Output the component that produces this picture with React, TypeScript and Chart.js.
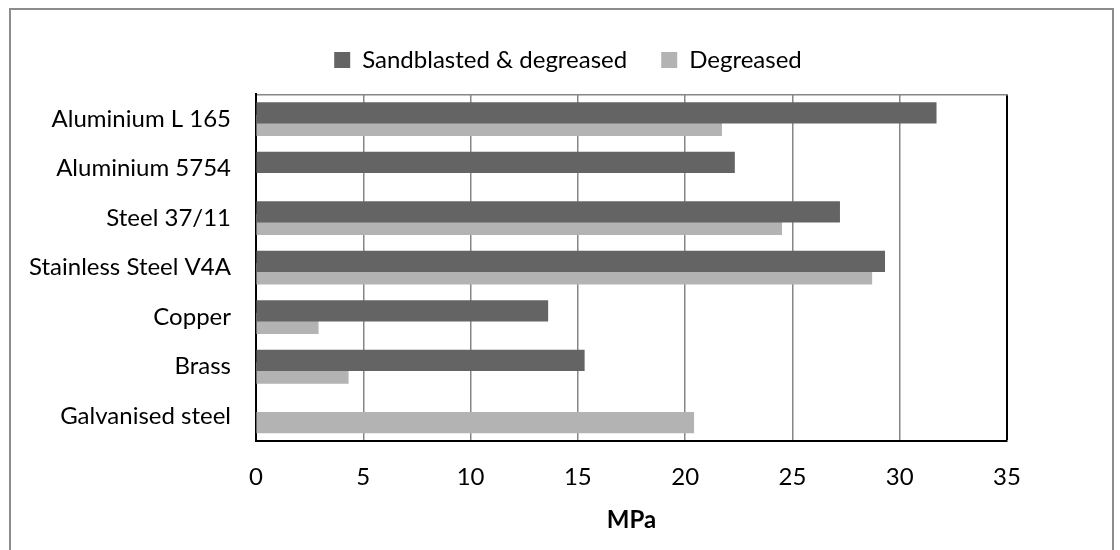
import React, { useEffect, useRef } from "react";
import { Chart, registerables } from "chart.js";

Chart.register(...registerables);

const categories = [
  "Aluminium L 165",
  "Aluminium 5754",
  "Steel 37/11",
  "Stainless Steel V4A",
  "Copper",
  "Brass",
  "Galvanised steel",
];
const sandblastedDegreased: (number | null)[] = [31.7, 22.3, 27.2, 29.3, 13.6, 15.3, null];
const degreased: (number | null)[] = [21.7, null, 24.5, 28.7, 2.9, 4.3, 20.4];
const seriesNames = ["Sandblasted & degreased", "Degreased"];
const xTicks = [0, 5, 10, 15, 20, 25, 30, 35];
const axisTitle = "MPa";

const FONT = "Lato, 'Noto Sans', sans-serif";
const FS = 24;

export default function App() {
  const ref = useRef<HTMLCanvasElement | null>(null);

  useEffect(() => {
    document.body.style.overflow = "hidden";
    if (!ref.current) return;
    const shift = 0.127;
    const toPoints = (vals: (number | null)[], off: number) =>
      vals.map((v, i) => ({ x: v, y: i + off }));
    const lastTick = xTicks[xTicks.length - 1];

    const chart = new Chart(ref.current, {
      type: "bar",
      data: {
        datasets: [
          {
            label: seriesNames[0],
            data: toPoints(sandblastedDegreased, -shift) as any,
            backgroundColor: "#646464",
            borderWidth: 0,
            barThickness: 20.6,
            grouped: false,
          },
          {
            label: seriesNames[1],
            data: toPoints(degreased, shift) as any,
            backgroundColor: "#b3b3b3",
            borderWidth: 0,
            barThickness: 20.6,
            grouped: false,
          },
        ],
      },
      options: {
        indexAxis: "y",
        responsive: false,
        animation: false,
        layout: { padding: { left: 16, right: 0, top: 14, bottom: 15.6 } },
        plugins: {
          legend: {
            position: "top",
            labels: {
              boxWidth: 16,
              boxHeight: 16,
              padding: 34,
              color: "#000",
              font: { family: FONT, size: FS },
            },
          },
          tooltip: { enabled: false },
        },
        scales: {
          x: {
            type: "linear",
            min: xTicks[0],
            max: lastTick,
            afterBuildTicks: (axis: any) => {
              axis.ticks = xTicks.map((v) => ({ value: v }));
            },
            afterFit: (axis: any) => {
              axis.height = 93.4;
            },
            ticks: {
              color: "#000",
              padding: 22,
              font: { family: FONT, size: FS },
            },
            grid: {
              drawTicks: false,
              color: (ctx: any) =>
                ctx.tick && ctx.tick.value === lastTick ? "#000" : "#868686",
              lineWidth: (ctx: any) =>
                ctx.tick && ctx.tick.value === lastTick ? 2 : 1.5,
            },
            border: { color: "#000", width: 2 },
            title: {
              display: true,
              text: axisTitle,
              color: "#000",
              padding: { top: 0, bottom: 0 },
              font: { family: FONT, size: FS, weight: "bold" },
            },
          },
          xTop: {
            type: "linear",
            position: "top",
            min: xTicks[0],
            max: lastTick,
            afterFit: (axis: any) => {
              axis.height = 12.3;
            },
            ticks: { display: false },
            grid: { display: false, drawTicks: false },
            border: { color: "#868686", width: 1.5 },
          },
          y: {
            type: "linear",
            reverse: true,
            offset: false,
            min: -0.5,
            max: categories.length - 0.5,
            afterBuildTicks: (axis: any) => {
              axis.ticks = categories.map((_, i) => ({ value: i }));
            },
            afterFit: (axis: any) => {
              axis.width = 240;
            },
            ticks: {
              color: "#000",
              padding: 25,
              font: { family: FONT, size: FS },
              callback: (v: any) => categories[Math.round(Number(v))] ?? "",
            },
            grid: { display: false, drawTicks: false },
            border: { color: "#000", width: 2 },
          },
          yRight: {
            type: "linear",
            position: "right",
            min: 0,
            max: 1,
            afterFit: (axis: any) => {
              axis.width = 113;
            },
            ticks: { display: false },
            grid: { display: false, drawTicks: false },
            border: { display: false },
          },
        },
      },
    });
    return () => chart.destroy();
  }, []);

  return (
    <div>
      <div
        style={{
          position: "fixed",
          left: 9,
          top: 8,
          width: 1105,
          height: 600,
          border: "2px solid #8c8c8c",
          boxSizing: "border-box",
        }}
      />
      <canvas
        ref={ref}
        width={1120}
        height={550}
        style={{ position: "fixed", left: 0, top: 0, width: 1120, height: 550 }}
      />
    </div>
  );
}
